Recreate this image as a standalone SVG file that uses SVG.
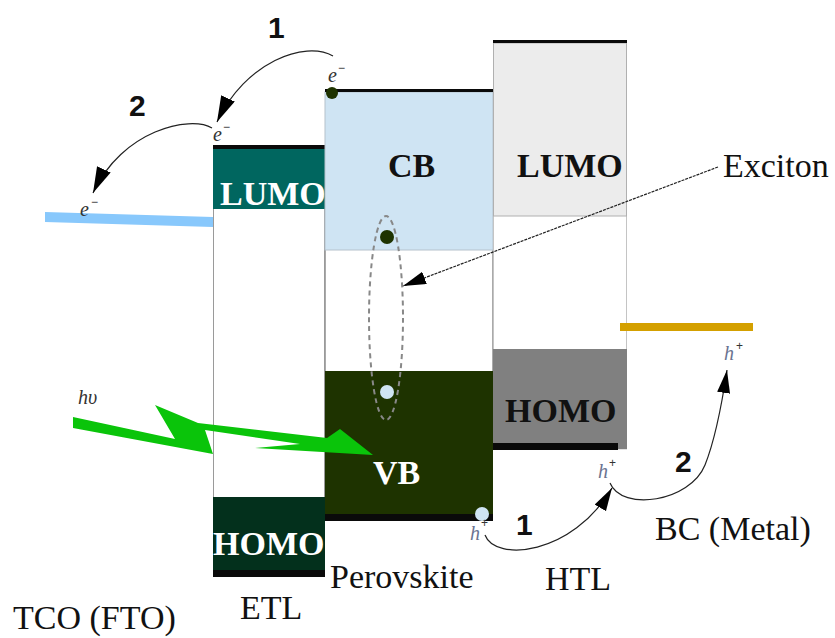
<svg xmlns="http://www.w3.org/2000/svg" width="835" height="638" viewBox="0 0 835 638">
<style>
.lbl{font-family:"Liberation Serif","Times New Roman",serif;font-size:34px;fill:#111}
.bold{font-family:"Liberation Serif","Times New Roman",serif;font-size:34px;font-weight:bold}
.num{font-family:"Liberation Sans",Arial,sans-serif;font-size:30px;font-weight:bold;fill:#111}
.car{font-family:"Liberation Serif","Times New Roman",serif;font-style:italic;font-size:20px;fill:#333}
.sup{font-family:"Liberation Sans",Arial,sans-serif;font-size:12px;fill:#333}
.hole{font-family:"Liberation Serif","Times New Roman",serif;font-style:italic;font-size:20px;fill:#6a7390}
.bar{fill:#0a0a0a}
.conn{fill:none;stroke:#222;stroke-width:1.2}
</style>
<defs>
<marker id="ah" markerUnits="userSpaceOnUse" markerWidth="28" markerHeight="16" refX="26" refY="7.5" orient="auto">
<path d="M0,0 L26,7.5 L0,15 z" fill="#000"/>
</marker>
<marker id="ah2" markerUnits="userSpaceOnUse" markerWidth="26" markerHeight="14" refX="23" refY="6.5" orient="auto">
<path d="M0,0 L23,6.5 L0,13 z" fill="#000"/>
</marker>
</defs>

<g id="tco">
<polygon points="45,212 213,217 213,227 45,222" fill="#88c8fc"/>
<text class="lbl" x="13" y="629">TCO (FTO)</text>
</g>

<g id="etl">
<rect x="213.5" y="148" width="111" height="350" fill="#fff" stroke="#9a9a9a"/>
<rect x="213" y="148" width="112" height="61" fill="#00665f"/>
<rect x="213" y="497" width="112" height="73" fill="#03301c"/>
<rect class="bar" x="213" y="145" width="112" height="4"/>
<rect class="bar" x="213" y="570" width="112" height="7"/>
<text class="bold" x="220" y="205" fill="#fff">LUMO</text>
<text class="bold" x="213" y="555" fill="#fff">HOMO</text>
<text class="lbl" x="240" y="619">ETL</text>
</g>

<g id="perovskite">
<rect x="325.5" y="92" width="167" height="424" fill="#fff" stroke="#aaa"/>
<rect x="325" y="92" width="168" height="158" fill="#cfe4f3" stroke="#b5c2cc"/>
<rect x="325" y="371" width="168" height="145" fill="#1e3300"/>
<rect class="bar" x="325" y="89" width="168" height="3"/>
<rect class="bar" x="325" y="514" width="168" height="7"/>
<text class="bold" x="388" y="177" fill="#111">CB</text>
<text class="bold" x="373" y="484" fill="#fff">VB</text>
<text class="lbl" x="330" y="588">Perovskite</text>
<circle cx="332" cy="93" r="6" fill="#1e3300"/>
<circle cx="387" cy="237" r="7" fill="#1e3300"/>
<circle cx="387" cy="392" r="7" fill="#cfe4f3"/>
<circle cx="482" cy="514" r="7" fill="#cfe4f3"/>
<ellipse cx="386" cy="318" rx="17" ry="102" fill="none" stroke="#888" stroke-width="2" stroke-dasharray="5,4"/>
</g>

<g id="htl">
<rect x="493.5" y="43" width="133" height="406" fill="#fff" stroke="#c4c4c4"/>
<rect x="493.5" y="43" width="133" height="173" fill="#ececec" stroke="#b0b0b0"/>
<rect x="493" y="349" width="134" height="100" fill="#808080"/>
<rect class="bar" x="493" y="40" width="134" height="3"/>
<rect class="bar" x="493" y="443" width="125" height="7"/>
<text class="bold" x="517" y="177" fill="#111">LUMO</text>
<text class="bold" x="505" y="422" fill="#111">HOMO</text>
<text class="lbl" x="545" y="590">HTL</text>
</g>

<g id="bc">
<rect x="620" y="323" width="133" height="8" fill="#d4a000"/>
<text class="lbl" x="655" y="540">BC (Metal)</text>
</g>

<g id="exciton">
<text class="lbl" x="723" y="177">Exciton</text>
</g>

<g id="light">
<polygon points="73,417 175,439 155,405 198,423 327,438 340,429 373,455 255,448 300,444 205,430 213,454 73,428" fill="#0ac40a"/>
<text class="car" x="78" y="404" fill="#555">hυ</text>
</g>

<g id="carriers">
<text class="car" x="328" y="82">e</text><text class="sup" x="338" y="72">−</text>
<text class="car" x="213" y="141">e</text><text class="sup" x="223" y="131">−</text>
<text class="car" x="80" y="216">e</text><text class="sup" x="91" y="206">−</text>
<text class="hole" x="470" y="540">h</text><text class="sup" x="481" y="527">+</text>
<text class="hole" x="598" y="478">h</text><text class="sup" x="609" y="467">+</text>
<text class="hole" x="724" y="360">h</text><text class="sup" x="736" y="350">+</text>
<text class="num" x="268" y="38">1</text>
<text class="num" x="129" y="116">2</text>
<text class="num" x="516" y="535">1</text>
<text class="num" x="675" y="472">2</text>
</g>

<g id="connectors">
<path class="conn" d="M333,56 C305,40 245,62 217,122" marker-end="url(#ah)"/>
<path class="conn" d="M212,128 C190,115 122,130 93,193" marker-end="url(#ah)"/>
<path class="conn" d="M485,535 C495,562 572,556 612,488" marker-end="url(#ah2)"/>
<path class="conn" d="M610,483 C622,512 690,502 705,465 C715,440 721,410 727,370" marker-end="url(#ah2)"/>
<path class="conn" d="M718,167 L403,286" stroke-dasharray="3,1" marker-end="url(#ah2)"/>
</g>
</svg>
